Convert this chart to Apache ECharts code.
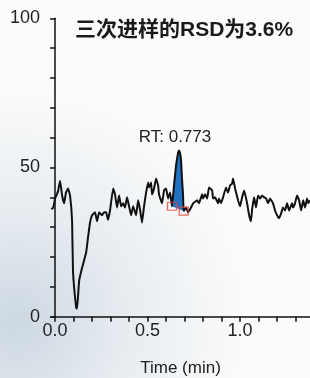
<!DOCTYPE html>
<html>
<head>
<meta charset="utf-8">
<script src="https://cdn.jsdelivr.net/npm/echarts@6/dist/echarts.min.js"></script>
<style>
html,body{margin:0;padding:0;background:#fbfbfb;}
#c{width:310px;height:378px;}
</style>
</head>
<body>
<div id="c"></div>
<script>
// ---- data ----
const titleText = '三次进样的RSD为3.6%';
const rtLabel = 'RT: 0.773';
const xAxisName = 'Time (min)';
const xTickValues = [0, 0.1, 0.2, 0.3, 0.4, 0.5, 0.6, 0.7, 0.8, 0.9, 1.0, 1.1, 1.2, 1.3];
const xLabelValues = [0, 0.5, 1.0];
const yLabelValues = [0, 50, 100];

const times = [
  -0.020, -0.010, 0.000, 0.016, 0.027, 0.038, 0.049, 0.059, 0.070, 0.081,
  0.092, 0.097, 0.114, 0.119, 0.130, 0.146, 0.168, 0.178, 0.189, 0.200,
  0.216, 0.227, 0.238, 0.254, 0.265, 0.276, 0.286, 0.297, 0.314, 0.324,
  0.335, 0.346, 0.357, 0.368, 0.378, 0.389, 0.400, 0.411, 0.422, 0.438,
  0.449, 0.459, 0.470, 0.481, 0.492, 0.503, 0.508, 0.519, 0.524, 0.535,
  0.546, 0.557, 0.562, 0.578, 0.589, 0.600, 0.611, 0.622, 0.632, 0.643,
  0.654, 0.665, 0.670, 0.676, 0.681, 0.686, 0.692, 0.695, 0.708, 0.719,
  0.735, 0.746, 0.768, 0.778, 0.795, 0.800, 0.811, 0.822, 0.832, 0.849,
  0.854, 0.865, 0.881, 0.886, 0.897, 0.908, 0.924, 0.935, 0.946, 0.957,
  0.962, 0.973, 0.989, 1.000, 1.011, 1.022, 1.038, 1.049, 1.059, 1.065,
  1.076, 1.086, 1.097, 1.108, 1.119, 1.130, 1.141, 1.151, 1.162, 1.178,
  1.189, 1.200, 1.211, 1.222, 1.232, 1.243, 1.254, 1.265, 1.281, 1.286,
  1.297, 1.308, 1.319, 1.330, 1.341, 1.351, 1.362, 1.368, 1.378
];
const signal = [
  36.0, 36.5, 39.6, 42.0, 45.6, 40.6, 38.0, 41.6, 43.0, 40.6,
  32.0, 15.0, 3.0, 2.7, 12.0, 16.4, 21.5, 26.5, 31.5, 34.0,
  35.0, 32.0, 35.0, 34.0, 35.0, 35.0, 32.5, 35.6, 43.0, 41.0,
  36.6, 40.6, 37.0, 38.0, 36.6, 40.0, 37.0, 34.0, 37.0, 34.0,
  39.0, 36.0, 31.5, 37.0, 41.6, 45.0, 43.3, 45.0, 41.0, 43.0,
  46.3, 44.0, 41.0, 38.0, 42.3, 43.0, 39.6, 41.6, 37.0, 44.0,
  50.7, 55.0, 55.7, 54.7, 52.3, 46.3, 40.6, 35.4, 36.6, 35.0,
  36.6, 38.0, 39.0, 38.0, 41.0, 39.6, 41.0, 39.6, 43.3, 42.3,
  39.6, 40.0, 38.0, 39.6, 38.0, 40.0, 43.3, 41.6, 44.0, 44.6,
  46.3, 43.0, 39.0, 37.0, 40.0, 42.3, 38.0, 34.0, 32.0, 36.0,
  40.0, 36.6, 40.6, 39.6, 40.6, 40.0, 39.6, 38.0, 39.6, 38.0,
  35.6, 34.0, 33.0, 34.6, 36.6, 35.6, 38.0, 35.6, 38.0, 36.6,
  38.0, 40.6, 39.0, 35.6, 39.0, 36.6, 39.6, 38.0, 39.0
];
// integration markers (peak start / end)
const peakMarkers = [[0.632, 37.0], [0.695, 35.4]];
const peakStart = 0.632, peakEnd = 0.695;

// ---- chart ----
const chart = echarts.init(document.getElementById('c'), null, {renderer: 'canvas'});
const lineData = times.map((t, i) => [t, signal[i]]);
const peakData = lineData.filter(p => p[0] >= peakStart - 1e-9 && p[0] <= peakEnd + 1e-9);
const font = 'Liberation Sans, Arial, sans-serif';

chart.setOption({
  animation: false,
  backgroundColor: {
    type: 'radial', x: 0.05, y: 0.85, r: 0.75,
    colorStops: [
      {offset: 0, color: 'rgba(205,216,226,1)'},
      {offset: 0.5, color: 'rgba(232,237,241,1)'},
      {offset: 1, color: 'rgba(251,251,251,1)'}
    ]
  },
  title: {
    text: titleText,
    left: 75, top: 20, padding: 0,
    textStyle: {fontSize: 21, fontWeight: 'bold', color: '#1a1a1a',
      fontFamily: 'Liberation Sans, Noto Sans CJK SC, sans-serif'}
  },
  graphic: [{
    type: 'text', x: 175, y: 137, z: 10,
    style: {text: rtLabel, fill: '#222', font: '17px ' + font, align: 'center', verticalAlign: 'middle'}
  }],
  grid: {left: 51, right: 0, top: 18.3, bottom: 61.3, outerBoundsMode: 'none', containLabel: false},
  xAxis: {
    type: 'value', min: -0.022, max: 1.378,
    name: xAxisName, nameLocation: 'middle', nameGap: 43,
    nameTextStyle: {fontSize: 17, color: '#222', fontFamily: font},
    axisLine: {show: true, onZero: false, lineStyle: {color: '#111', width: 1.5}},
    axisTick: {show: true, customValues: xTickValues, length: 5, lineStyle: {color: '#111', width: 1.5}},
    axisLabel: {customValues: xLabelValues, margin: 5, fontSize: 18, color: '#222', fontFamily: font,
      formatter: v => Number(v).toFixed(1)},
    splitLine: {show: false}
  },
  yAxis: {
    type: 'value', min: 0, max: 100, interval: 10,
    axisLine: {show: true, lineStyle: {color: '#111', width: 1.5}},
    axisTick: {show: true, length: 5, lineStyle: {color: '#111', width: 1.5}},
    axisLabel: {margin: 11, fontSize: 18, color: '#222', fontFamily: font,
      formatter: v => (yLabelValues.indexOf(v) >= 0 ? String(v) : '')},
    splitLine: {show: false}
  },
  series: [
    {
      type: 'custom', silent: true, z: 1,
      data: [0],
      renderItem: (params, api) => ({
        type: 'polygon',
        shape: {points: peakData.map(p => api.coord(p))},
        style: {fill: '#2272c3', stroke: 'none'}
      })
    },
    {
      type: 'line', data: lineData, showSymbol: false, smooth: 0.1, z: 3,
      lineStyle: {color: '#111', width: 2}
    },
    {
      type: 'scatter', data: peakMarkers, symbol: 'rect', symbolSize: [9, 8], z: 5,
      itemStyle: {color: 'rgba(0,0,0,0)', borderColor: '#e8413a', borderWidth: 1.2}
    }
  ]
});
</script>
</body>
</html>
